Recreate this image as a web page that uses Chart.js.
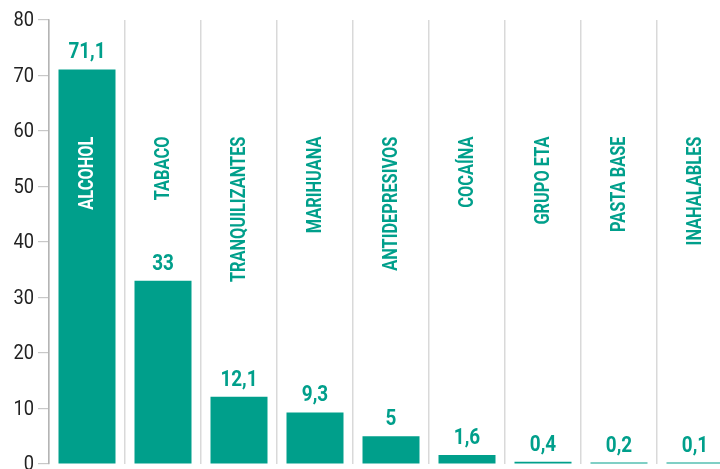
<!DOCTYPE html>
<html>
<head>
<meta charset="utf-8">
<script src="https://cdn.jsdelivr.net/npm/chart.js@4"></script>
<style>
html,body{margin:0;padding:0;background:#fff;overflow:hidden;}
#wrap{width:740px;height:469px;position:relative;}
</style>
</head>
<body>
<div id="wrap"><canvas id="c"></canvas></div>
<script>
const categories = ["ALCOHOL","TABACO","TRANQUILIZANTES","MARIHUANA","ANTIDEPRESIVOS","COCAÍNA","GRUPO ETA","PASTA BASE","INAHALABLES"];
const values = [71.1, 33, 12.1, 9.3, 5, 1.6, 0.4, 0.2, 0.1];
const valueLabels = ["71,1","33","12,1","9,3","5","1,6","0,4","0,2","0,1"];
const yTicks = [0,10,20,30,40,50,60,70,80];

const TEAL = "#009f8b";
const FONT = "Roboto, 'Liberation Sans', sans-serif";

const labelPlugin = {
  id: 'labels',
  afterDraw(chart) {
    const ctx = chart.ctx;
    const meta = chart.getDatasetMeta(0);
    const y = chart.scales.y;
    ctx.save();
    ctx.fillStyle = '#222';
    ctx.font = "21px " + FONT;
    ctx.textAlign = 'right';
    ctx.textBaseline = 'middle';
    yTicks.forEach(v => {
      ctx.save();
      ctx.translate(34, y.getPixelForValue(v) + 1);
      ctx.scale(0.87, 1);
      ctx.fillText(String(v), 0, 0);
      ctx.restore();
    });
    meta.data.forEach((bar, i) => {
      ctx.save();
      ctx.fillStyle = TEAL;
      ctx.font = "bold 22px " + FONT;
      ctx.textAlign = 'center';
      ctx.textBaseline = 'alphabetic';
      ctx.translate(bar.x, bar.y - 11);
      ctx.scale(0.86, 1);
      ctx.fillText(valueLabels[i], 0, 0);
      ctx.restore();
      const topY = y.getPixelForValue(59);
      ctx.save();
      ctx.translate(bar.x, topY);
      ctx.rotate(-Math.PI / 2);
      ctx.scale(0.78, 1);
      ctx.font = "bold 21px " + FONT;
      ctx.textAlign = 'right';
      ctx.textBaseline = 'middle';
      ctx.fillStyle = (bar.y < topY + 60) ? '#ffffff' : TEAL;
      ctx.fillText(categories[i], 0, 1);
      ctx.restore();
    });
    ctx.restore();
  }
};

new Chart(document.getElementById('c'), {
  type: 'bar',
  data: {
    labels: categories,
    datasets: [{
      data: values,
      backgroundColor: TEAL,
      borderWidth: 0,
      barPercentage: 0.75,
      categoryPercentage: 1.0,
      minBarLength: 1.5
    }]
  },
  options: {
    responsive: true,
    maintainAspectRatio: false,
    animation: false,
    devicePixelRatio: 1,
    layout: { padding: { top: 20, right: 7, left: 0, bottom: 0 } },
    plugins: { legend: { display: false }, tooltip: { enabled: false } },
    scales: {
      x: {
        grid: { display: true, offset: true, color: '#d9d9d9', lineWidth: 1.5, drawTicks: false },
        border: { display: false },
        ticks: { display: false },
        afterFit(scale) { scale.height = 5; }
      },
      y: {
        min: 0, max: 80,
        afterBuildTicks(scale) { scale.ticks = yTicks.map(v => ({ value: v })); },
        grid: { drawOnChartArea: false, drawTicks: true, tickLength: 11, color: '#c8c8c8', lineWidth: 1.2 },
        border: { display: true, color: '#b4b4b4', width: 1.5 },
        ticks: { display: false },
        afterFit(scale) { scale.width = 49; }
      }
    }
  },
  plugins: [labelPlugin]
});
</script>
</body>
</html>
